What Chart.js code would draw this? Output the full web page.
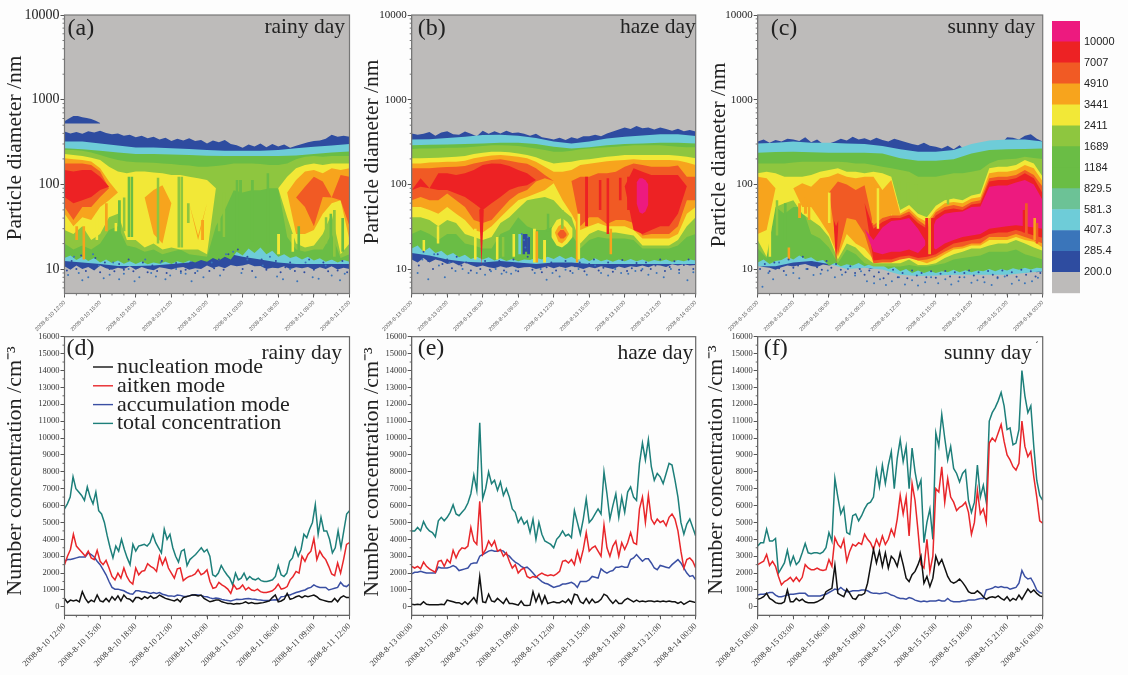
<!DOCTYPE html>
<html>
<head>
<meta charset="utf-8">
<script src="https://cdn.jsdelivr.net/npm/chart.js@4"></script>
<style>
body { margin: 0; background: #fdfdfd; }
canvas { position: absolute; }
</style>
</head>
<body>
<canvas id="panelA" width="355" height="335" style="left:0;top:0"></canvas>
<canvas id="panelB" width="346" height="335" style="left:355px;top:0"></canvas>
<canvas id="panelC" width="347" height="335" style="left:701px;top:0"></canvas>
<canvas id="colorBar" width="80" height="335" style="left:1048px;top:0"></canvas>
<canvas id="panelD" width="355" height="345" style="left:0;top:330px"></canvas>
<canvas id="panelE" width="346" height="345" style="left:355px;top:330px"></canvas>
<canvas id="panelF" width="347" height="345" style="left:701px;top:330px"></canvas>
<script>
// colour levels, bottom of the colour bar first
const levelColors = ['#bdbbba', '#2e4ca0', '#3a75ba', '#6eccd8', '#6cc296', '#6abd45', '#6abd45', '#8ec63f', '#f2e837', '#f7a41d', '#f15a24', '#ed2224', '#ed1a7f'];
const levelLabels = ['200.0', '285.4', '407.3', '581.3', '829.5', '1184', '1689', '2411', '3441', '4910', '7007', '10000'];
const cellSizes = [1, 1, 1, 1, 1, 1, 1, 1, 1, 1, 1, 1, 1];

const diameterTicks = [10, 100, 1000, 10000];
const concentrationTicks = [0, 1000, 2000, 3000, 4000, 5000, 6000, 7000, 8000, 9000, 10000, 11000, 12000, 13000, 14000, 15000, 16000];
const hourTicks = [0, 3, 6, 9, 12, 15, 18, 21, 24];

const rainyTimes = ['2008-8-10 12:00', '2008-8-10 15:00', '2008-8-10 18:00', '2008-8-10 21:00', '2008-8-11 00:00', '2008-8-11 03:00', '2008-8-11 06:00', '2008-8-11 09:00', '2008-8-11 12:00'];
const hazeTimes = ['2008-8-13 00:00', '2008-8-13 03:00', '2008-8-13 06:00', '2008-8-13 09:00', '2008-8-13 12:00', '2008-8-13 15:00', '2008-8-13 18:00', '2008-8-13 21:00', '2008-8-14 00:00'];
const sunnyTimes = ['2008-8-15 00:00', '2008-8-15 03:00', '2008-8-15 06:00', '2008-8-15 09:00', '2008-8-15 12:00', '2008-8-15 15:00', '2008-8-15 18:00', '2008-8-15 21:00', '2008-8-16 00:00'];

// hours of the dark speckles along the lower edge, same sampling in all three contour panels
const dotHours = [0.2,0.6,1,1.4,1.8,2.2,2.6,3,3.4,3.8,4.2,4.6,5,5.4,5.8,6.2,6.6,7,7.4,7.8,8.2,8.6,9,9.4,9.8,10.2,10.6,11,11.4,11.8,12.2,12.6,13,13.4,13.8,14.2,14.6,15,15.4,15.8,16.2,16.6,17,17.4,17.8,18.2,18.6,19,19.4,19.8,20.2,20.6,21,21.4,21.8,22.2,22.6,23,23.4,23.8];

// panel (a), contour edges in nm
const aDarkTop = [420,400,415,395,425,410,430,405,390,400,375,385,360,375,350,365,340,355,325,345,330,350,325,335,305,330,315,335,300,290,270,295,280,305,275,300,280,295,270,285,300,315,325,330,345,385,365,375,365];
const aDarkBot = [10.8,9.8,11,10,10.6,9.6,11,10.2,9.8,10.4,10,10.8,9.8,10.6,10,9.7,10.5,10.2,9.9,10.4,10.6,9.8,10.2,10,11,10.3,10.8,10.2,11.2,10.8,11,11.5,10.8,10.9,10,10.4,10.2,10.8,10,10.5,10.2,10.6,9.8,10.5,10,10.8,9.9,10.4,10];
const aBlobTop = [555,600,640,640,620,610,590,565,530];
const aBlobBot = [525,525,525,525,525,525,525,525,525];
const aCyanTop = [320,320,305,287,272,272,267,262,255,250,250,250,255,267,279,287,300];
const aCyanBot = [12.5,12,11.5,10.9,10.9,11,11.5,12,15,15.5,14,13,12,11.5,11.5,11.5,11.5];
const aGreenTop = [267,260,250,238,228,228,226,222,218,216,216,216,216,220,228,238,245];
const aGreenBot = [13.5,14.5,12.8,14,12.5,13.5,12,13,11.8,12.6,11.6,12.4,11.5,12.3,11.4,12,11.6,12.2,11.5,12.4,11.8,12.6,12,12.8,12.2,13.5,12.6,14,13,16,14.5,17.5,15.5,18,15,16.5,14,15,13.5,14.2,13,14,12.6,13.4,12.2,13,12,12.8,12.2];
const aLimeTop = [255,255,250,238,222,207,194,186,183,181,180,177,174,170,167,162,162,165,170,177,177,177,174,170,170,177,198,212,216,212,216,216,216];
const aLimeBot = [20,17,19,17,20,29,32,19,18,16,17,15,16,17,15,14.5,14,32,50,85,80,85,85,90,90,24,17,16,17,17,26,13.5,15];
const aYellowTop = [228,222,216,207,194,162,142,135,142,142,138,135,129,129,123,118,113,90,90,90,90,90,90,90,90,123,155,170,177,170,177,177,177];
const aYellowBot = [29,26,32,22,26,41,45,22,22,18,20,17,18,17,17,17,15,90,90,90,90,90,90,90,90,41,20,18,19,26,45,15,20];
const aOrangeTop = [203,198,194,186,155,108,80,80,80,70,86,98,60,60,60,25,60,90,90,90,90,90,90,90,90,80,113,142,148,135,155,148,155];
const aOrangeBot = [45,32,41,38,54,65,80,80,80,70,26,20,60,60,60,22,60,90,90,90,90,90,90,90,90,80,26,26,29,45,60,65,22];
const aRedOrangeTop = [177,177,177,170,142,90,70,70,70,70,70,70,70,70,70,70,70,70,70,70,70,70,70,70,70,70,70,94,123,108,70,129,123];
const aRedOrangeBot = [54,38,54,54,71,90,70,70,70,70,70,70,70,70,70,70,70,70,70,70,70,70,70,70,70,70,70,54,32,71,70,65,32];
const aRedTop = [148,142,148,148,123,94,80,80,80,80,80,80,80,80,80,80,80,80,80,80,80,80,80,80,80,80,80,80,80,80,80,80,80];
const aRedBot = [71,60,65,71,86,94,80,80,80,80,80,80,80,80,80,80,80,80,80,80,80,80,80,80,80,80,80,80,80,80,80,80,80];
const aStreakHours = [1.5,2.6,3.4,4.5,4.9,5.3,5.55,7.75,9.5,9.75,10.3,12.9,13.3,14.4,14.7,15.7,17,17.9,19.1,19.6,21.9,22.3,22.6,23.3,0.9,4.2,11.5];
const aStreakTops = [32,45,60,65,70,123,123,120,123,123,60,70,80,113,113,113,135,26,26,32,41,45,50,40,32,35,38];
const aStreakBots = [13,22,28,26,28,24,24,20,18,18,35,28,24,18,18,21,20,15,16,16,20,13,14,16,22,28,22];
const aStreakLevels = [9,8,9,5,7,5,5,7,7,7,7,7,7,5,5,5,5,8,8,5,7,5,7,5,9,8,9];
const aSpeckHours = [0.3,0.8,1.2,1.5,2,2.4,2.9,3.3,3.8,4.1,4.6,5,5.4,5.9,6.3,6.8,7.3,7.7,8.1,8.5,8.9,9.4,9.8,10.2,10.7,11.2,11.7,12.4,13.1,13.6,14.2,14.9,15.4,16.1,16.7,17.3,17.9,18.4,19,19.6,20.3,20.9,21.4,22,22.5,23.2,23.6];
const aSpeckSizes = [8.5,14,9,7.4,8,15,11,7.8,8.6,12,7.6,8.8,10,7.2,8,13,9,8.2,12,7.6,8.4,10,9,8.8,7.2,9.5,8,12,8.4,15,16,9,13,8,11,14,8.2,7.6,10,7.2,12,8,7.7,11,8.4,7.4,8.8];
const aDotSizes = [9.6,12.5,10,14.5,9.5,11,13.5,9.2,12,10,9.4,11.5,9.8,13,9.4,10.5,12,9.2,11,9.5,12.5,9,10.5,11.8,9.4,9.8,12,9,10.8,11.6,9.5,10.2,13,9.8,15,12,17,10,14,9.5,11.5,13,9.8,11,12.5,9.2,10.5,12,9.5,11,9.2,13,9.8,10.8,12,9.4,11,9.6,12.5,9.2];

// panel (b)
const bDarkTop = [400,385,395,415,375,410,425,390,385,420,395,370,430,395,425,400,430,405,410,395,375,395,360,350,340,355,335,360,345,370,370,385,370,400,420,445,470,450,490,460,470,445,470,450,430,455,425,440,420];
const bDarkBot = [13,12,13.5,12,13,12.5,11.5,12,11,12,11.2,10.6,11,10.5,10.2,10.8,10.4,10.8,10.2,10.5,10.6,10,10.4,10.8,10.2,10.7,10.3,10.8,10.5,10,10.6,10.2,10.8,10.4,10,10.7,10.3,10.8,10.6,11,10.5,11.2,11,10.6,11.4,11,11.4,11,11.2];
const bCyanTop = [340,342,352,365,382,386,375,352,320,305,320,349,365,378,390,390,372];
const bCyanBot = [15.5,14.5,13,12.2,12,12.5,12,11.5,12,12,11.5,11.5,11.5,11.5,11.5,11.5,11.5];
const bGreenTop = [290,293,296,300,305,311,311,300,279,265,274,290,300,305,311,311,305];
const bGreenBot = [17.5,19,16,18,15.5,16.5,14.5,15.5,13.8,14.8,13.2,14,13,13.8,12.6,13.4,12.5,13.2,12.4,13,12.8,13.6,13,14,13.2,14.4,13.2,14,12.8,13.6,12.4,13.4,12.4,13,12.2,13,12.4,13.2,12.4,13,12.2,12.8,12.4,13,12.2,12.8,12.4,13,12.6];
const bLimeTop = [262,265,265,267,270,270,272,279,284,290,290,287,284,274,265,255,243,243,250,260,265,270,274,279,284,290,290,290,290,284,279,274,274];
const bLimeBot = [26,29,26,22,26,26,20,19,17.5,17.5,26,29,41,32,29,29,32,32,26,17.5,22,24,23,23,23,22,17.5,17.5,17.5,17.5,19,24,26];
const bYellowTop = [203,203,205,207,209,212,216,228,236,243,243,239,232,222,209,190,177,181,185,194,198,205,212,216,222,222,222,222,222,222,218,212,203];
const bYellowBot = [41,41,38,32,38,35,26,24,22,24,35,41,52,65,68,71,65,50,41,20,26,29,27,27,26,25,19,19,19,19,22,32,41];
const bOrangeTop = [177,177,181,183,185,185,190,203,212,220,222,218,212,203,185,162,141,141,148,170,175,181,188,192,194,198,194,194,194,194,192,181,170];
const bOrangeBot = [54,54,50,45,54,45,38,29,27,32,41,52,65,71,78,86,103,65,45,29,32,35,32,32,32,29,23,23,23,23,26,45,54];
const bRedOrangeTop = [155,155,155,158,160,162,165,177,185,194,198,190,181,175,155,129,110,110,110,123,123,135,135,141,162,177,170,162,162,162,167,123,123];
const bRedOrangeBot = [65,71,65,65,78,65,54,38,35,38,50,65,78,86,108,118,110,110,110,32,41,41,34,38,38,35,25,26,26,26,32,65,65];
const bRedTop = [85,118,90,135,135,129,135,148,170,177,175,165,148,135,113,95,95,95,95,95,95,95,95,95,95,155,141,129,129,129,129,95,95];
const bRedBot = [85,94,90,86,86,78,71,60,50,60,71,86,94,98,113,95,95,95,95,95,95,95,95,95,95,29,26,29,32,32,45,95,95];
const bPinkTop = [105,118,118,112,100];
const bPinkBot = [60,47,45,48,58];
const bSpikeTop = [50,54,50];
const bSpikeBot = [50,11,50];
const bHaloTop = [30,38,40,36,30];
const bHaloBot = [24,19,18,20,24];
const bBlobTop = [27,32,34,31,26];
const bBlobBot = [27,21,20,22,26];
const bBlobCoreTop = [26,29,29,26];
const bBlobCoreBot = [26,23,23,25];
const bStreakHours = [2.1,5.25,7.1,7.6,8.5,9,9.35,9.55,9.75,10.25,10.45,11.1,13.85,14,14.65,15.8,16.45,16.7,17.5,18.2,12.6,11.4,0.9];
const bStreakTops = [32,30,24,24,26,26,26,26,24,30,28,22,45,45,123,113,118,30,120,123,50,45,22];
const bStreakBots = [20,13,13,14,14,15,15,16,15,12,12,12,12,13,32,50,26,15,65,50,30,28,16];
const bStreakLevels = [8,8,8,7,8,3,1,1,1,8,9,8,9,8,11,11,11,9,11,11,7,5,8];
const bSpeckHours = [0.5,0.9,1.4,1.9,2.3,2.8,3.2,3.7,4.3,4.8,5.5,6.2,6.7,7.1,7.6,8,8.4,8.8,9.3,9.5,9.6,9.8,10.4,10.9,11.4,11.9,12.5,13,13.6,14.1,14.8,15.5,16,16.6,17.2,17.7,18.3,18.9,19.5,20,20.7,21.3,21.9,22.6,23.3,23.8];
const bSpeckSizes = [9,13,7.6,15,11,8,12,9.5,10,9,9,8.6,9.4,10,8.8,9.2,8.8,9.6,26,22,18,24,9,10,7.5,9,8.2,9.8,9,10,8.6,11,9,8.4,10,9,8.8,9.5,10,8.6,9,8,10,9,7.4,9.2];
const bDotSizes = [14,11,16,12.5,10,15,11.5,13,10.2,14,11,12,9.6,11.5,10,12.5,9.8,11,12.5,9.6,10.8,13,9.4,11,14,9.8,11,9.2,10.5,12,9.6,11,12.5,9.5,10.8,12,9.4,11.5,13,9.6,10.4,12,9.3,11,12.8,9.5,10.2,11.8,9.6,12,10,11,13,9.5,10.6,12.4,9.8,11.2,13,10];

// panel (c)
const cDarkTop = [320,340,310,335,320,345,340,325,360,315,340,300,305,320,345,330,365,340,350,330,355,335,320,345,330,315,300,290,310,285,279,265,285,260,290,250,267,280,255,285,270,300,360,355,340,375,390,345,320];
const cDarkBot = [11,10.6,10.4,9.8,10.5,11,10.7,11.2,11.5,10.9,10.6,11.3,11,11.4,11.5,10.8,10.6,10.2,10.7,10,10.5,10.2,10,9.6,9.2,9.5,9,9.4,8.9,9.3,9,9.2,9.5,9,9.6,9.2,9.7,9.3,9.8,9.4,9.6,9.2,9.8,9.3,9.6,9,9.5,9.2,9.4];
const cCyanTop = [305,311,320,311,311,305,300,284,260,243,243,255,300,330,340,340,320];
const cCyanBot = [10.8,10.8,12,12.5,11.5,10,10.4,9.9,8.6,8.3,8.4,8.6,8.6,8.6,8.6,9,9.4];
const cGreenTop = [236,241,243,239,236,236,236,232,203,190,190,198,232,255,260,262,265];
const cGreenBot = [12,13,11.5,12.5,12.8,14,13,14.5,13.2,13.8,12.4,12.8,11,11.8,10.8,11.4,11,11.8,10.8,11.5,10.9,11.2,10,10.6,9.4,10,9,9.6,9,9.5,9,9.4,9.2,9.8,9.2,9.7,9.2,9.6,9.4,10,9.4,10,9.6,10.2,9.8,10.4,9.9,10.4,10.2];
const cLimeTop = [177,177,177,177,181,185,185,185,185,185,183,177,177,170,162,155,148,141,123,123,123,129,135,135,141,148,177,194,198,201,212,205,200];
const cLimeBot = [17.5,13.5,54,45,54,54,26,23,18,11.7,17,15,11.7,10.7,10.7,10.7,10.7,11.2,10.7,10.7,11.2,11.7,13,13.5,14,14.5,16,16,16,17,15,14,13];
const cYellowTop = [135,141,135,123,123,123,129,141,148,155,141,141,135,141,135,123,50,57,45,41,56,65,68,65,74,78,155,162,162,170,194,177,123];
const cYellowBot = [22,14,54,60,65,45,38,32,24,13,20,18,14,11.7,11.7,11.7,11.7,13,11.2,11.2,11.7,13.5,15,16,17.5,17.5,19,20,20,22,20,18,16.5];
const cOrangeTop = [123,118,90,90,90,103,94,118,123,135,123,118,123,123,86,113,45,52,41,36,50,60,62,60,68,71,135,141,141,148,170,155,108];
const cOrangeBot = [26,29,90,90,90,54,54,38,26,14,26,20,17.5,13,12.6,45,13,14,12.6,11.7,13,15,17,17.5,19,19,22,22,22,24,22,21,18];
const cRedOrangeTop = [80,80,80,80,80,80,80,80,80,108,100,86,98,33,40,43,43,48,38,32,47,54,57,54,62,65,118,123,123,129,148,129,94];
const cRedOrangeBot = [80,80,80,80,80,80,80,80,80,15,40,38,26,11.7,12,12,13,13.5,12.6,13,14,16,18,18.5,20,20,24,24,24,26,24,22,20];
const cRedTop = [60,60,60,60,60,60,60,60,60,60,60,60,60,30,36,40,40,44,35,30,43,50,52,50,58,60,108,113,113,118,135,118,78];
const cRedBot = [60,60,60,60,60,60,60,60,60,60,60,60,60,12.6,13,13,14,14.5,13.5,14,15,17.5,20,21,22,23,26,27,27,29,27,25,23.5];
const cPinkTop = [30,30,30,30,30,30,30,30,30,30,30,30,30,22,31,37,38,40,30,20,38,45,47,48,54,55,94,97,97,105,113,100,65];
const cPinkBot = [30,30,30,30,30,30,30,30,30,30,30,30,30,16,15,16,16,17,15.5,20,17,20,22,24,25,26,30,31,32,33,32,31,30];
const cSpikeTop = [38,32,38];
const cSpikeBot = [34,12,34];
const cStreakHours = [0.9,2.5,3.4,3.9,4.2,5.9,9.6,10,11.8,12.5,13.2,14.1,14.35,14.6,15.9,22.3,22.5,23.2,23.4,1.5,2.2];
const cStreakTops = [30,18,60,70,65,80,100,90,110,105,100,40,40,40,78,50,60,40,35,65,60];
const cStreakBots = [14,13,40,45,38,35,35,30,60,65,60,16,15,15,58,27,24,22,20,25,22];
const cStreakLevels = [8,9,9,9,9,8,9,8,7,7,7,11,9,11,7,11,10,9,10,7,5];
const cSpeckHours = [0.4,0.9,1.3,1.8,2.4,3,3.5,4.1,4.7,5.3,5.9,6.5,7.1,7.6,8.2,8.7,9.2,9.8,10.3,10.8,11.3,11.9,12.4,13,13.5,14.1,14.6,15.2,15.8,16.3,16.9,17.4,18,18.5,19.1,19.7,20.2,20.8,21.4,22,22.5,23.1,23.6];
const cSpeckSizes = [6.2,9,7.6,12,8.5,9,7.8,10,8.5,8.8,9.6,8,8.6,10,8.4,9.4,7.2,6.8,7.6,6.5,7.2,8,6.6,7.4,6.4,7,8,6.8,7.6,6.6,7.2,8,6.9,7.4,7,6.5,7.8,8.2,6.7,7.4,6.8,7.2,7.9];
const cDotSizes = [10,11.5,9.4,12,10.2,9.5,13,10.4,11,14,10,12,10.5,9.8,12.5,10.4,11.5,9.8,9.2,10.8,9,10,8.6,9.6,8.2,9.2,7.8,8.8,9.8,8,9,7.8,9.6,8.4,9,8,9.4,7.9,8.8,9.5,8.2,9.2,8,9,9.6,8.4,9.2,8,9.5,8.6,8,9.6,8.4,9.2,8.1,9.8,8.6,9.4,8.2,9];

// panel (d), one reading every 15 minutes
const dTotal = [5800,6100,6500,7700,7000,6800,6600,6300,7100,6500,6100,6800,5700,5500,5000,4200,3500,2900,3600,3300,4000,3400,2900,2500,3700,3300,3600,3650,3700,3600,3800,4300,3800,3500,3200,4600,4000,4300,3500,3000,2650,3300,3400,2450,2800,2950,3100,3300,3500,3250,3400,3000,1900,1800,2000,2450,2150,1900,1700,1300,2000,1600,1700,2000,1600,1800,1650,1600,1700,1550,1500,1500,1550,1600,1800,2450,1900,1800,2000,2700,2900,3500,3000,3400,4300,4100,4600,5000,6050,4300,5300,4500,4500,4000,3200,3500,4500,3500,4500,5500,5700];
const dAitken = [2500,3000,3400,4300,3600,3400,3200,3000,3300,2900,2800,3350,2700,2500,2750,2300,1800,1600,2000,1700,2300,1800,1500,1350,2300,1900,2100,2150,2550,2400,2300,2100,3000,2500,2900,2300,2000,1700,2250,2300,1550,1700,1800,1850,1950,2200,1900,2000,2200,1500,1100,1150,1450,1300,1200,1050,800,1300,1050,1100,1300,1000,1150,1000,950,1050,900,850,850,900,950,1100,1350,1050,1100,1200,1600,1800,2100,2000,3000,2700,3100,3300,4050,2800,3300,3000,2800,2400,1950,1850,2600,2000,2800,3700,3800];
const dAccum = [2700,2800,2800,2850,2900,2950,2950,2950,3200,3100,2950,2700,2500,2200,1900,1500,1150,1050,1050,1000,950,850,780,750,950,950,900,900,850,800,850,800,850,750,700,650,650,620,700,680,630,620,650,700,720,700,680,620,600,530,480,530,500,440,400,380,350,400,450,430,450,480,500,470,450,420,400,380,380,380,400,420,400,600,620,700,700,780,850,900,950,1000,1100,1150,1300,1200,1150,1150,1150,1000,1050,1100,1150,1450,1250,1200,1350];
const dNucleation = [500,250,400,350,400,300,900,500,250,400,300,700,350,300,500,300,600,400,650,350,700,500,450,300,550,550,450,600,500,650,500,550,700,600,500,450,400,350,450,300,550,600,650,700,700,650,700,500,400,300,350,400,400,300,250,200,200,150,200,180,220,300,200,250,200,200,230,250,300,350,550,700,300,350,450,800,450,500,600,650,550,650,600,650,700,600,450,400,350,300,300,500,300,550,650,550,550];

// panel (e)
const eTotal = [4500,4500,4700,4500,5050,4700,4500,4400,4150,5100,5300,5100,5300,5600,6050,5500,5400,5600,5800,6150,6700,7800,6900,10900,6400,7000,8000,7300,7500,6900,7400,6600,7000,6500,5800,5600,5000,5300,4900,5100,4400,5200,4000,5000,4300,3900,3800,3700,3500,4000,4200,4500,4200,4300,4100,5700,5000,4300,5200,6400,5000,5200,5500,5800,5500,8000,6700,5200,6000,6700,5300,6500,5600,6800,7100,6500,6300,8500,9700,8700,9900,8300,7500,7900,7700,7300,7900,8500,8400,7500,6500,5000,4300,4900,5200,4700,4200];
const eAitken = [2400,2300,2400,2250,2650,2400,2250,2150,2050,2700,2750,2400,2800,2600,3350,2900,3300,3500,3450,3600,4700,3900,3700,6250,3100,3400,3900,3600,3900,3300,3400,3000,3200,2700,2300,2500,2000,2200,2300,1800,1700,1800,1750,1900,2000,1900,1850,1900,1850,1950,2100,2700,2750,2600,2800,2500,3300,2700,3400,4400,3300,3500,3600,3300,3000,4850,3500,3000,3600,3900,3000,3800,3400,3800,4400,3800,3700,5800,6500,5000,6600,5200,4900,5200,5000,5100,4800,5300,5500,5200,4500,3300,2300,2800,2900,2700,2300];
const eAccum = [1950,2050,2050,2100,2050,2000,2000,2000,2000,2350,2300,2300,2300,2350,2450,2350,2150,2200,2250,2300,2550,2600,2600,3000,3100,3200,3300,3350,3300,3300,3350,3300,3100,3000,2800,2650,2550,2400,2300,2350,2200,2000,1800,1650,1500,1400,1350,1250,1150,1200,1250,1350,1350,1400,1450,1350,1150,1500,1500,1500,1600,1800,1750,1700,2250,2100,2000,2100,2150,2350,2350,2400,2350,2350,2800,2900,3100,2900,2700,2850,2850,2600,2300,2200,2450,2400,2350,2300,2500,2650,2800,2600,2300,2000,1800,1850,1600];
const eNucleation = [150,120,150,130,300,150,120,120,120,130,150,130,400,350,300,250,250,150,300,150,350,550,250,1800,300,250,750,350,300,500,350,200,500,200,200,150,100,350,100,80,100,900,300,750,200,650,200,250,300,250,250,350,250,450,200,750,700,300,200,500,200,450,250,300,450,750,650,400,200,400,200,200,400,500,400,300,400,300,350,300,350,350,300,350,300,350,300,350,300,300,200,300,150,250,350,300,250];

// panel (f)
const fTotal = [3600,3800,3800,4600,3900,3900,4050,2000,2300,2600,3350,2500,3000,2500,2700,3200,3750,3200,3150,3200,3200,3150,3250,3500,4400,3900,7600,6500,5500,5900,4400,4300,5400,5500,5100,5400,5800,6100,6200,6500,8100,7100,8400,7300,8400,9200,7000,8800,9900,8600,9500,7000,9400,8000,7000,7500,3800,5000,5800,4000,10300,9500,11400,10000,8700,9500,8200,7900,7400,7900,8100,6300,5600,6200,8400,6500,7200,6200,11000,11500,11800,12200,12700,11900,10500,10600,9600,9700,10500,14000,12500,11500,11900,9500,7500,6600,6300];
const fAitken = [2500,2600,2700,3100,2450,2700,2400,1800,1300,1500,1600,1750,1500,1750,1500,1750,2500,2300,2200,2200,2300,2200,2150,2200,2800,2400,4100,3700,3500,4000,2700,3300,3700,3600,3800,3700,4300,4000,3800,3400,4000,3600,4200,3700,4000,4600,4200,5200,6600,5500,6500,4200,7300,6300,4500,2500,2300,4000,2100,3000,7000,6800,8300,6200,7600,6500,6200,5700,5900,6000,6200,5600,4300,5000,6900,5500,5800,5000,9700,10000,9800,10300,10800,9800,9000,8700,8300,8100,8500,11000,9500,8900,9200,7700,6500,5100,4950];
const fAccum = [700,750,750,800,850,850,700,600,600,650,700,750,750,780,800,800,800,650,650,650,650,650,700,750,850,950,1050,1000,1150,1000,900,900,950,950,950,1000,1000,950,850,800,800,780,800,850,800,700,650,550,500,500,450,550,500,400,350,300,350,300,350,350,350,400,350,350,500,350,300,300,300,350,350,400,400,400,450,500,500,1000,1050,1100,1200,1150,1200,1150,1150,1050,1100,1150,1400,2150,1800,1650,1700,1400,1000,850,800];
const fNucleation = [450,500,600,800,500,400,250,200,200,300,1000,300,300,500,350,450,300,250,250,250,300,400,500,900,1000,1100,2450,800,700,600,1050,800,500,450,700,700,800,1400,2400,3400,2600,3300,2400,3200,2300,3000,2800,2400,3200,2500,1700,1500,1900,2100,2500,3000,1400,1800,1200,1700,3000,2500,2800,2300,1800,1500,1400,1500,1650,1450,1200,900,800,800,950,800,600,450,550,600,550,650,500,400,600,350,500,400,700,450,750,1050,850,1000,800,650,600];

const modeNames = ['nucleation mode', 'aitken mode', 'accumulation mode', 'total concentration'];
const modeColors = ['#111111', '#e8262a', '#3a4fa3', '#1d7f7a'];

const minorDiameters = [6, 7, 8, 9, 20, 30, 40, 50, 60, 70, 80, 90, 200, 300, 400, 500, 600, 700, 800, 900, 2000, 3000, 4000, 5000, 6000, 7000, 8000, 9000];
const minorConcentrations = [500, 1500, 2500, 3500, 4500, 5500, 6500, 7500, 8500, 9500, 10500, 11500, 12500, 13500, 14500, 15500];

const serif = '"Liberation Serif", serif';

// puts evenly spaced readings on the hour axis
function spread(values, from = 0, to = 24) {
    return values.map((v, i) => ({ x: from + (to - from) * i / (values.length - 1), y: v }));
}

function addBand(list, level, top, bot, from, to) {
    const edge = { borderWidth: 0, pointRadius: 0, tension: 0 };
    list.unshift(
        { ...edge, data: spread(top, from, to), fill: '+1', backgroundColor: levelColors[level] },
        { ...edge, data: spread(bot, from, to), fill: false }
    );
}

function addStreaks(list, hours, tops, bots, levels) {
    hours.forEach((h, i) => {
        addBand(list, levels[i], [tops[i], tops[i]], [bots[i], bots[i]], h, h + 0.25);
    });
}

function addSpecks(list, hours, sizes, level) {
    list.unshift({
        data: hours.map((h, i) => ({ x: h, y: sizes[i] })),
        showLine: false,
        pointRadius: 1,
        pointBorderWidth: 0,
        pointBackgroundColor: levelColors[level]
    });
}

// background, frame, minor ticks and the texts of a panel
const panelExtras = {
    id: 'panelExtras',
    beforeDatasetsDraw(chart, args, opts) {
        const area = chart.chartArea;
        if (opts.fill) {
            chart.ctx.fillStyle = opts.fill;
            chart.ctx.fillRect(area.left, area.top, area.width, area.height);
        }
    },
    afterDraw(chart, args, opts) {
        const ctx = chart.ctx;
        const area = chart.chartArea;
        ctx.save();
        ctx.strokeStyle = opts.frame;
        ctx.lineWidth = 1.2;
        ctx.strokeRect(area.left, area.top, area.width, area.height);

        ctx.lineWidth = 1;
        ctx.beginPath();
        for (let h = 0; h <= 24; h++) {
            const x = chart.scales.x.getPixelForValue(h);
            ctx.moveTo(x, area.bottom);
            ctx.lineTo(x, area.bottom + 2);
        }
        opts.minorY.forEach(v => {
            const y = chart.scales.y.getPixelForValue(v);
            ctx.moveTo(area.left, y);
            ctx.lineTo(area.left - 2, y);
        });
        ctx.stroke();

        ctx.fillStyle = '#222';
        ctx.textBaseline = 'alphabetic';
        ctx.font = '24px ' + serif;
        ctx.textAlign = 'left';
        ctx.fillText(opts.letter, area.left + opts.letterDx, opts.letterY);
        ctx.font = '21.5px ' + serif;
        ctx.textAlign = 'right';
        ctx.fillText(opts.day, area.right - opts.dayDx, opts.dayY);
        if (opts.mark) {
            ctx.font = '10px ' + serif;
            ctx.fillText(opts.mark, area.right - opts.dayDx + 7, opts.dayY - 10);
        }

        ctx.save();
        ctx.translate(opts.titleX, opts.titleY);
        ctx.rotate(-Math.PI / 2);
        ctx.textAlign = 'center';
        ctx.textBaseline = 'middle';
        ctx.font = opts.titleSize + 'px ' + serif;
        ctx.fillText(opts.title, 0, 0);
        ctx.restore();

        if (opts.legend) {
            modeNames.forEach((name, i) => {
                const y = 37 + i * 18.8;
                ctx.strokeStyle = modeColors[i];
                ctx.lineWidth = 1.4;
                ctx.beginPath();
                ctx.moveTo(93, y);
                ctx.lineTo(113, y);
                ctx.stroke();
                ctx.fillStyle = '#222';
                ctx.font = '22px ' + serif;
                ctx.textAlign = 'left';
                ctx.fillText(name, 117, y + 6);
            });
        }
        ctx.restore();
    }
};

function hourAxis(labels, height, size, color, family) {
    return {
        type: 'linear',
        min: 0,
        max: 24,
        afterBuildTicks(scale) { scale.ticks = hourTicks.map(v => ({ value: v })); },
        afterFit(scale) {
            scale.height = height;
            scale.paddingLeft = 0;
            scale.paddingRight = 0;
        },
        grid: { drawOnChartArea: false, tickLength: 4, color: '#555' },
        border: { color: '#555' },
        ticks: {
            autoSkip: false,
            minRotation: 45,
            maxRotation: 45,
            padding: 2,
            color: color,
            font: { size: size, family: family },
            callback: (v) => labels[hourTicks.indexOf(v)]
        }
    };
}

function valueAxis(extra, width, size, color) {
    return {
        ...extra,
        afterFit(scale) {
            scale.width = width;
            scale.paddingTop = 0;
            scale.paddingBottom = 0;
        },
        grid: { drawOnChartArea: false, tickLength: 4, color: '#555' },
        border: { color: '#555' },
        ticks: { autoSkip: false, padding: 1, color: color, font: { size: size, family: serif }, callback: (v) => String(v) }
    };
}

function heatChart(id, bands, labels, axisWidth, rightPad, tickSize, extras) {
    return new Chart(document.getElementById(id), {
        type: 'line',
        data: { datasets: bands },
        options: {
            responsive: false,
            animation: false,
            layout: { padding: { top: 15, right: rightPad } },
            scales: {
                x: hourAxis(labels, 41.5, 5.5, '#555', '"Liberation Sans", sans-serif'),
                y: valueAxis({
                    type: 'logarithmic',
                    min: 5.15,
                    max: 10000,
                    afterBuildTicks(scale) { scale.ticks = diameterTicks.map(v => ({ value: v })); }
                }, axisWidth, tickSize, '#222')
            },
            plugins: {
                legend: { display: false },
                tooltip: { enabled: false },
                panelExtras: { fill: levelColors[0], frame: '#777', minorY: minorDiameters, title: 'Particle diameter /nm', titleSize: 21.5, ...extras }
            }
        },
        plugins: [panelExtras]
    });
}

function lineChart(id, series, labels, axisWidth, rightPad, extras) {
    return new Chart(document.getElementById(id), {
        type: 'line',
        data: {
            datasets: series.map((values, i) => ({
                data: spread(values),
                borderColor: modeColors[i],
                borderWidth: 1.5,
                pointRadius: 0,
                tension: 0
            }))
        },
        options: {
            responsive: false,
            animation: false,
            layout: { padding: { top: 6.7, right: rightPad } },
            scales: {
                x: hourAxis(labels, 59.7, 8.5, '#333', serif),
                y: valueAxis({
                    type: 'linear',
                    min: -500,
                    max: 16000,
                    afterBuildTicks(scale) { scale.ticks = concentrationTicks.map(v => ({ value: v })); }
                }, axisWidth, 8.5, '#333')
            },
            plugins: {
                legend: { display: false },
                tooltip: { enabled: false },
                panelExtras: { frame: '#666', minorY: minorConcentrations, title: 'Number concentration /cm⁻³', titleSize: 22, ...extras }
            }
        },
        plugins: [panelExtras]
    });
}

// contour panels, outermost band first
const bandsA = [];
addBand(bandsA, 1, aDarkTop, aDarkBot);
addBand(bandsA, 1, aBlobTop, aBlobBot, 0, 3);
addBand(bandsA, 3, aCyanTop, aCyanBot);
addBand(bandsA, 5, aGreenTop, aGreenBot);
addBand(bandsA, 7, aLimeTop, aLimeBot);
addBand(bandsA, 8, aYellowTop, aYellowBot);
addBand(bandsA, 9, aOrangeTop, aOrangeBot);
addBand(bandsA, 10, aRedOrangeTop, aRedOrangeBot);
addBand(bandsA, 11, aRedTop, aRedBot);
addStreaks(bandsA, aStreakHours, aStreakTops, aStreakBots, aStreakLevels);
addSpecks(bandsA, aSpeckHours, aSpeckSizes, 2);
addSpecks(bandsA, dotHours, aDotSizes, 1);

const bandsB = [];
addBand(bandsB, 1, bDarkTop, bDarkBot);
addBand(bandsB, 3, bCyanTop, bCyanBot);
addBand(bandsB, 5, bGreenTop, bGreenBot);
addBand(bandsB, 7, bLimeTop, bLimeBot);
addBand(bandsB, 8, bYellowTop, bYellowBot);
addBand(bandsB, 8, bHaloTop, bHaloBot, 11.8, 13.6);
addBand(bandsB, 9, bOrangeTop, bOrangeBot);
addBand(bandsB, 9, bBlobTop, bBlobBot, 12.1, 13.3);
addBand(bandsB, 10, bRedOrangeTop, bRedOrangeBot);
addBand(bandsB, 10, bBlobCoreTop, bBlobCoreBot, 12.3, 13.1);
addBand(bandsB, 11, bRedTop, bRedBot);
addStreaks(bandsB, bStreakHours, bStreakTops, bStreakBots, bStreakLevels);
addBand(bandsB, 11, bSpikeTop, bSpikeBot, 5.7, 6.1);
addBand(bandsB, 12, bPinkTop, bPinkBot, 19, 20);
addSpecks(bandsB, bSpeckHours, bSpeckSizes, 2);
addSpecks(bandsB, dotHours, bDotSizes, 1);

const bandsC = [];
addBand(bandsC, 1, cDarkTop, cDarkBot);
addBand(bandsC, 3, cCyanTop, cCyanBot);
addBand(bandsC, 5, cGreenTop, cGreenBot);
addBand(bandsC, 7, cLimeTop, cLimeBot);
addBand(bandsC, 8, cYellowTop, cYellowBot);
addBand(bandsC, 9, cOrangeTop, cOrangeBot);
addBand(bandsC, 10, cRedOrangeTop, cRedOrangeBot);
addBand(bandsC, 11, cRedTop, cRedBot);
addBand(bandsC, 12, cPinkTop, cPinkBot);
addStreaks(bandsC, cStreakHours, cStreakTops, cStreakBots, cStreakLevels);
addBand(bandsC, 11, cSpikeTop, cSpikeBot, 6.4, 6.8);
addSpecks(bandsC, cSpeckHours, cSpeckSizes, 2);
addSpecks(bandsC, dotHours, cDotSizes, 1);

heatChart('panelA', bandsA, rainyTimes, 64.5, 5.5, 14, { letter: '(a)', letterDx: 3, letterY: 35, day: 'rainy day', dayDx: 4.5, dayY: 33, titleX: 15, titleY: 148 });
heatChart('panelB', bandsB, hazeTimes, 56.7, 5.3, 11, { letter: '(b)', letterDx: 6, letterY: 35, day: 'haze day', dayDx: 0, dayY: 33, titleX: 17, titleY: 152 });
heatChart('panelC', bandsC, sunnyTimes, 56.7, 5.3, 11, { letter: '(c)', letterDx: 13, letterY: 35, day: 'sunny day', dayDx: 7.5, dayY: 33, titleX: 18, titleY: 155 });

lineChart('panelD', [dNucleation, dAitken, dAccum, dTotal], rainyTimes, 64.5, 5.5, { letter: '(d)', letterDx: 2, letterY: 25, day: 'rainy day', dayDx: 7.5, dayY: 29, titleX: 15, titleY: 141, legend: true });
lineChart('panelE', [eNucleation, eAitken, eAccum, eTotal], hazeTimes, 56.7, 5.3, { letter: '(e)', letterDx: 6, letterY: 25, day: 'haze day', dayDx: 2.5, dayY: 29, titleX: 17.5, titleY: 142 });
lineChart('panelF', [fNucleation, fAitken, fAccum, fTotal], sunnyTimes, 56.7, 5.3, { letter: '(f)', letterDx: 6, letterY: 25, day: 'sunny day', dayDx: 11, dayY: 29, titleX: 15, titleY: 140, mark: '´' });

// colour bar
new Chart(document.getElementById('colorBar'), {
    type: 'bar',
    data: {
        labels: ['level'],
        datasets: levelColors.map((color, i) => ({
            data: [cellSizes[i]],
            backgroundColor: color,
            barPercentage: 1,
            categoryPercentage: 1
        }))
    },
    options: {
        responsive: false,
        animation: false,
        layout: { padding: { top: 21, bottom: 41.7, left: 4 } },
        scales: {
            x: { display: false, stacked: true },
            y: {
                position: 'right',
                stacked: true,
                min: 0,
                max: 13,
                afterBuildTicks(scale) { scale.ticks = levelLabels.map((l, i) => ({ value: i + 1 })); },
                afterFit(scale) { scale.width = 48; },
                grid: { display: false, drawTicks: false },
                border: { display: false },
                ticks: { autoSkip: false, padding: 4, color: '#222', font: { size: 11, family: '"Liberation Sans", sans-serif' }, callback: (v) => levelLabels[v - 1] }
            }
        },
        plugins: { legend: { display: false }, tooltip: { enabled: false } }
    }
});
</script>
</body>
</html>
